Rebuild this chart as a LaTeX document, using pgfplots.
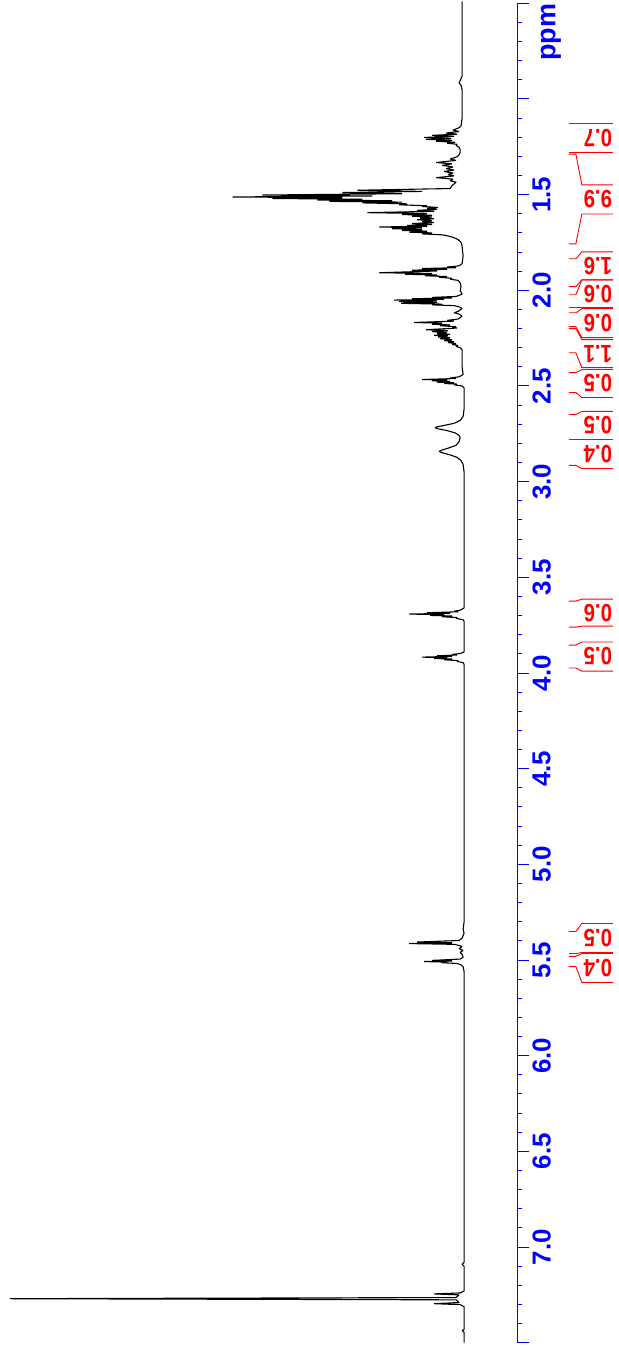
\documentclass[border=0pt]{standalone}
\usepackage{pgfplots}
\pgfplotsset{compat=1.18}
\usepackage{fontspec}
\setmainfont{Liberation Sans}
\definecolor{nmrblue}{RGB}{0,0,255}
\definecolor{nmrred}{RGB}{255,0,0}
\newcommand{\integ}[5]{%
 \draw[nmrred, line width=0.9bp] (axis cs:-107,#1) -- (axis cs:-114,#1) -- (axis cs:-120,#3) -- (axis cs:-151,#3);
 \draw[nmrred, line width=0.9bp] (axis cs:-107,#2) -- (axis cs:-114,#2) -- (axis cs:-120,#4) -- (axis cs:-151,#4);
 \node[text=nmrred, rotate=180, font=\fontsize{25bp}{25bp}\selectfont\bfseries, inner sep=0pt] at (axis cs:-136,{(#3+#4)/2}) {\scalebox{0.82}[1]{#5}};
}
\begin{document}
\begin{tikzpicture}
\begin{axis}[
  scale only axis, width=518bp, height=1342bp,
  xmin=-55, xmax=463, x dir=reverse,
  ymin=0.5, ymax=7.5, y dir=reverse,
  axis x line=none, axis y line=right,
  axis line style={nmrblue, line width=1bp, -},
  ytick={0.5,1.0,1.5,2.0,2.5,3.0,3.5,4.0,4.5,5.0,5.5,6.0,6.5,7.0,7.5},
  yticklabels={,,1.5,2.0,2.5,3.0,3.5,4.0,4.5,5.0,5.5,6.0,6.5,7.0,},
  minor y tick num=4,
  tick align=outside,
  major tick length=12bp, minor tick length=5bp,
  tick style={nmrblue, line width=1bp},
  yticklabel style={font=\fontsize{26bp}{26bp}\selectfont\bfseries, text=nmrblue, rotate=90, anchor=north},
  clip=false,
]
\addplot[black, line width=1.1bp, line join=bevel] coordinates {
(0,0.49) (0,0.88) (2,0.905) (3,0.915) (1,0.93) (0,0.95) (0,1.10) (1,1.140)
(3,1.150)(9,1.163)(3,1.170)(16,1.178)(5,1.184)(30,1.190)(8,1.195)(38,1.201)(11,1.206)(36,1.211)(10,1.216)(26,1.221)(7,1.226)(15,1.231)(5,1.237)(6,1.243)(3,1.252)(2,1.265)(2,1.280)(3,1.292)
(5,1.302)(12,1.314)(6,1.321)(26,1.332)(10,1.339)(20,1.347)(9,1.355)(16,1.364)(8,1.371)(18,1.379)(9,1.387)(14,1.395)(8,1.402)(26,1.411)(9,1.419)(12,1.427)(6,1.435)(8,1.444)(10,1.452)(11,1.460)(12,1.468)
(105,1.477)(40,1.483)(120,1.489)(60,1.495)(200,1.502)(90,1.507)(230,1.512)(120,1.516)(190,1.520)(100,1.524)(145,1.528)(70,1.532)(133,1.535)(60,1.539)(100,1.543)(55,1.548)(63,1.553)(35,1.558)
(40,1.562)(24,1.567)(35,1.572)(25,1.577)(45,1.582)(28,1.587)(95,1.594)(35,1.599)(60,1.604)(30,1.608)(50,1.613)(30,1.617)(42,1.622)(28,1.626)(45,1.631)(30,1.636)(40,1.641)(28,1.646)(50,1.651)(30,1.656)(55,1.661)(35,1.665)(83,1.669)(40,1.673)(70,1.678)(40,1.682)(60,1.687)(35,1.691)(53,1.696)(30,1.700)(40,1.705)(20,1.710)(14,1.716)(8,1.725)(4,1.735)(1,1.750)(0,1.77)(-1,1.82)(0,1.86)
(3,1.872)(15,1.878)(6,1.882)(40,1.886)(15,1.890)(50,1.895)(25,1.899)(83,1.908)(30,1.912)(57,1.916)(25,1.920)(37,1.924)(15,1.928)(23,1.932)(10,1.937)(12,1.942)(4,1.948)(2,1.960)(1,1.980)(2,2.000)(0,2.020)
(6,2.032)(30,2.037)(10,2.040)(50,2.044)(18,2.047)(68,2.051)(25,2.055)(63,2.059)(25,2.063)(61,2.068)(20,2.072)(30,2.076)(8,2.080)(3,2.086)(0,2.095)
(4,2.110)(8,2.117)(3,2.124)(0,2.135)
(4,2.150)(15,2.157)(8,2.161)(48,2.168)(20,2.172)(30,2.177)(12,2.181)(22,2.185)(6,2.190)(10,2.194)
(5,2.197)(36,2.206)(14,2.211)(30,2.216)(15,2.221)(25,2.226)(12,2.230)(28,2.235)(14,2.239)(24,2.244)(12,2.248)(22,2.253)(10,2.258)(18,2.263)(8,2.268)(14,2.273)(6,2.278)(10,2.283)(4,2.288)(6,2.293)(2,2.300)(0,2.310)(0,2.40)
(-1,2.440)(3,2.452)(12,2.458)(6,2.461)(40,2.466)(15,2.469)(30,2.473)(12,2.476)(25,2.480)(8,2.483)(18,2.487)(5,2.490)(8,2.494)(0,2.500)(-2,2.510)(-2,2.62)
(-1,2.66)(2,2.68)(8,2.695)(18,2.706)(25,2.713)(27,2.718)(24,2.724)(15,2.733)(7,2.745)(3,2.758)(2,2.770)(3,2.790)(6,2.810)(14,2.825)(21,2.836)(23,2.842)(20,2.849)(12,2.860)(5,2.873)(1,2.890)(-1,2.910)(-2,2.950)(-2,3.660)
(2,3.672)(8,3.677)(4,3.680)(35,3.685)(12,3.688)(53,3.692)(18,3.695)(32,3.699)(10,3.702)(20,3.706)(5,3.710)(6,3.714)(-1,3.722)(-2,3.730)(-2,3.890)
(2,3.898)(10,3.903)(5,3.906)(25,3.910)(10,3.913)(40,3.917)(15,3.920)(28,3.924)(10,3.927)(18,3.931)(4,3.935)(5,3.939)(-1,3.946)(-2,3.955)(-2,5.30)(-1,5.34)(-2,5.36)
(0,5.385)(3,5.398)(45,5.406)(10,5.410)(53,5.414)(8,5.418)(3,5.424)(0,5.430)(3,5.440)(-1,5.450)(2,5.460)(0,5.470)(-1,5.485)(2,5.495)(30,5.502)(10,5.505)(38,5.508)(15,5.511)(20,5.514)(5,5.518)(1,5.525)(-1,5.535)(-2,5.560)
(-2,7.080)(0,7.090)(-2,7.100)(-2,7.230)(2,7.240)(28,7.245)(3,7.250)(6,7.264)(453,7.270)(6,7.276)(3,7.290)(28,7.296)(2,7.301)(-2,7.312)(-2,7.430)(0,7.437)(-2,7.445)(-2,7.50)
};
\integ{1.126}{1.282}{1.126}{1.282}{0.7}
\integ{1.288}{1.757}{1.449}{1.601}{9.9}
\integ{1.835}{1.981}{1.799}{1.945}{1.6}
\integ{2.023}{2.091}{1.945}{2.091}{0.6}
\integ{2.117}{2.190}{2.096}{2.247}{0.6}
\integ{2.200}{2.326}{2.258}{2.404}{1.1}
\integ{2.430}{2.534}{2.414}{2.560}{0.5}
\integ{2.649}{2.779}{2.633}{2.779}{0.5}
\integ{2.779}{2.915}{2.779}{2.931}{0.4}
\integ{3.624}{3.760}{3.614}{3.755}{0.6}
\integ{3.854}{3.974}{3.838}{3.990}{0.5}
\integ{5.351}{5.466}{5.309}{5.461}{0.5}
\integ{5.481}{5.534}{5.466}{5.617}{0.4}
\node[text=nmrblue, rotate=90, font=\fontsize{27bp}{27bp}\selectfont\bfseries, inner sep=0pt] at (axis cs:-89,0.652) {ppm};
\path (axis cs:463,0.4844) rectangle (axis cs:-157,7.502);
\end{axis}
\end{tikzpicture}
\end{document}
